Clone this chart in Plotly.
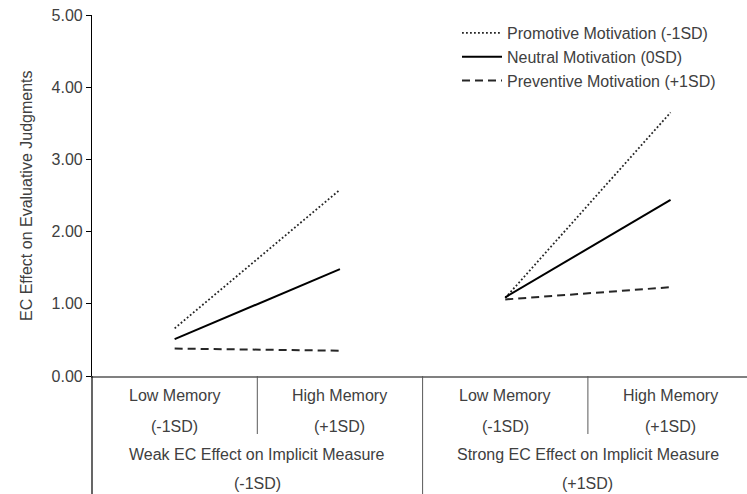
import plotly.graph_objects as go

# ---- data ----
categories = ["Low Memory (-1SD) | Weak", "High Memory (+1SD) | Weak",
              "Low Memory (-1SD) | Strong", "High Memory (+1SD) | Strong"]
sub_labels_line1 = ["Low Memory", "High Memory", "Low Memory", "High Memory"]
sub_labels_line2 = ["(-1SD)", "(+1SD)", "(-1SD)", "(+1SD)"]
group_labels_line1 = ["Weak EC Effect on Implicit Measure", "Strong EC Effect on Implicit Measure"]
group_labels_line2 = ["(-1SD)", "(+1SD)"]

series_names = ["Promotive Motivation (-1SD)", "Neutral Motivation (0SD)", "Preventive Motivation (+1SD)"]
promotive = [0.66, 2.58, 1.08, 3.65]
neutral = [0.51, 1.48, 1.09, 2.44]
preventive = [0.38, 0.35, 1.06, 1.23]

y_ticks = [0, 1, 2, 3, 4, 5]

# ---- layout numbers ----
W, H = 747, 494
ML, MR, MT, MB = 92, 0, 15, 118
plot_w = W - ML - MR
plot_h = H - MT - MB
cat_px = 165.3
x_range = [-0.5, -0.5 + plot_w / cat_px]

FONT = "Liberation Sans, Arial, sans-serif"
TXT = "#404040"

fig = go.Figure()
styles = [dict(color="#262626", width=1.8, dash="1.8px,2.2px"),
          dict(color="black", width=2.0, dash="solid"),
          dict(color="#262626", width=2.0, dash="8px,5px")]
for name, vals, st in zip(series_names, [promotive, neutral, preventive], styles):
    for g in range(2):
        fig.add_trace(go.Scatter(
            x=categories[2 * g:2 * g + 2], y=vals[2 * g:2 * g + 2],
            mode="lines", line=st, name=name,
            legendgroup=name, showlegend=(g == 0), hoverinfo="skip"))

shapes = []
row_h = 58 / plot_h
for b in [0.5, 2.5]:
    shapes.append(dict(type="line", xref="x", yref="paper", x0=b, x1=b, y0=0, y1=-row_h,
                       line=dict(color="#595959", width=1)))
for b in [1.5]:
    shapes.append(dict(type="line", xref="x", yref="paper", x0=b, x1=b, y0=0, y1=-MB / plot_h,
                       line=dict(color="#595959", width=1)))
shapes.append(dict(type="line", xref="paper", yref="paper", x0=0, x1=0, y0=0, y1=-MB / plot_h,
                   line=dict(color="black", width=1.2)))

annotations = []
def px_to_paper(py):
    return (H - MB - py) / plot_h

for i, c in enumerate(categories):
    annotations.append(dict(x=i, y=px_to_paper(396), xref="x", yref="paper", text=sub_labels_line1[i],
                            showarrow=False, yanchor="middle", font=dict(size=16, color=TXT, family=FONT)))
    annotations.append(dict(x=i, y=px_to_paper(426), xref="x", yref="paper", text=sub_labels_line2[i],
                            showarrow=False, yanchor="middle", font=dict(size=16, color=TXT, family=FONT)))
for g in range(2):
    annotations.append(dict(x=2 * g + 0.5, y=px_to_paper(454), xref="x", yref="paper", text=group_labels_line1[g],
                            showarrow=False, yanchor="middle", font=dict(size=16, color=TXT, family=FONT)))
    annotations.append(dict(x=2 * g + 0.5, y=px_to_paper(483), xref="x", yref="paper", text=group_labels_line2[g],
                            showarrow=False, yanchor="middle", font=dict(size=16, color=TXT, family=FONT)))
annotations.append(dict(x=(26 - ML) / plot_w, y=px_to_paper(196), xref="paper", yref="paper",
                        xanchor="center", yanchor="middle",
                        text="EC Effect on Evaluative Judgments", textangle=-90, showarrow=False,
                        font=dict(size=16, color=TXT, family=FONT)))

fig.update_layout(
    width=W, height=H, margin=dict(l=ML, r=MR, t=MT, b=MB, pad=0),
    paper_bgcolor="white", plot_bgcolor="white",
    font=dict(family=FONT, color=TXT, size=16),
    showlegend=True,
    legend=dict(x=(457 - ML) / plot_w, y=px_to_paper(16), xanchor="left", yanchor="top",
                bgcolor="rgba(0,0,0,0)", font=dict(size=16, color=TXT, family=FONT),
                itemwidth=40, tracegroupgap=0),
    xaxis=dict(type="category", categoryarray=categories, categoryorder="array",
               range=x_range, showticklabels=False, ticks="", showgrid=False, zeroline=False,
               showline=True, linecolor="#808080", linewidth=1.5),
    yaxis=dict(range=[0, 5], tickvals=y_ticks, tickformat=".2f", ticks="outside", ticklen=5,
               tickcolor="black", showgrid=False, zeroline=False, showline=True,
               linecolor="black", linewidth=1.2, tickfont=dict(size=16, color=TXT, family=FONT)),
    shapes=shapes, annotations=annotations,
)
fig.write_html("out.html", post_script="document.body.style.margin='0';",
               config={"displayModeBar": False})
